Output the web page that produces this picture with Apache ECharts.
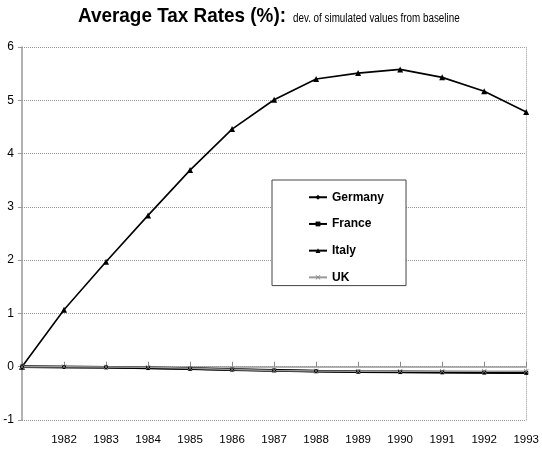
<!DOCTYPE html>
<html><head><meta charset="utf-8">
<script src="https://cdn.jsdelivr.net/npm/echarts@6/dist/echarts.min.js"></script>
<style>html,body{margin:0;padding:0;background:#fff}#c{width:542px;height:450px}</style>
</head><body><div id="c"></div>
<script>
var years = ['1981','1982','1983','1984','1985','1986','1987','1988','1989','1990','1991','1992','1993'];
var germany = [0,-0.005,-0.01,-0.02,-0.035,-0.05,-0.065,-0.08,-0.09,-0.095,-0.1,-0.105,-0.11];
var france  = [0,-0.005,-0.012,-0.025,-0.04,-0.055,-0.07,-0.085,-0.095,-0.1,-0.105,-0.11,-0.115];
var italy   = [0,1.07,1.97,2.84,3.69,4.46,5.01,5.40,5.51,5.58,5.43,5.17,4.78];
var uk      = [0,0,-0.005,-0.01,-0.03,-0.05,-0.07,-0.08,-0.085,-0.085,-0.085,-0.085,-0.085];
var titleMain = 'Average Tax Rates (%):';
var titleSub = 'dev. of simulated values from baseline';
var FONT = '"Liberation Sans",Arial,sans-serif';
var xPath = 'path://M0,1L1,0L5,4L9,0L10,1L6,5L10,9L9,10L5,6L1,10L0,9L4,5Z';
var chart = echarts.init(document.getElementById('c'));
chart.setOption({
  animation:false,
  textStyle:{fontFamily:FONT},
  graphic:[
    {type:'text',left:78,top:6,scaleX:0.9,style:{text:titleMain,font:'bold 21px '+FONT,fill:'#000'}},
    {type:'text',left:293,top:13,scaleX:0.82,style:{text:titleSub,font:'12px '+FONT,fill:'#000'}}
  ],
  legend:{orient:'vertical',left:272,top:180,padding:[10,22,1,36],itemGap:12.2,itemWidth:18,itemHeight:6,
    borderColor:'#444',borderWidth:1,backgroundColor:'#fff',
    textStyle:{fontFamily:FONT,fontSize:12,fontWeight:'bold',color:'#000',lineHeight:14.5},
    data:['Germany','France','Italy','UK']},
  grid:{left:22,right:15,top:47,bottom:30},
  xAxis:[{type:'category',data:years,boundaryGap:false,position:'bottom',
      axisLine:{onZero:true,lineStyle:{color:'#999',width:1.5}},
      axisTick:{inside:true,length:5,lineStyle:{color:'#888'}},
      axisLabel:{show:false},splitLine:{show:false}},
    {type:'category',data:years,boundaryGap:false,position:'bottom',
      axisLine:{show:false,onZero:false},axisTick:{show:false},
      axisLabel:{margin:14,fontFamily:FONT,fontSize:11.5,color:'#000',
        formatter:function(v,i){return i===0?'':v;}}}],
  yAxis:[{type:'value',min:-1,max:6,interval:1,
      axisLine:{show:true,lineStyle:{color:'#999',width:1.5}},
      axisTick:{show:true,length:4,lineStyle:{color:'#999'}},
      axisLabel:{margin:8,fontFamily:FONT,fontSize:12,color:'#000'},
      splitLine:{show:true,lineStyle:{type:'dotted',color:'#999'}}},
    {type:'value',min:-1,max:6,interval:1,position:'right',
      axisLine:{show:true,lineStyle:{type:'dotted',color:'#bbb'}},
      axisTick:{show:false},axisLabel:{show:false},splitLine:{show:false}}],
  series:[
    {name:'Germany',type:'line',data:germany,symbol:'diamond',symbolSize:4,
      lineStyle:{color:'#000',width:2.5},itemStyle:{color:'#000'}},
    {name:'France',type:'line',data:france,symbol:'rect',symbolSize:4,
      lineStyle:{color:'#000',width:2.5},itemStyle:{color:'#000'}},
    {name:'Italy',type:'line',data:italy,symbol:'triangle',symbolSize:6,
      lineStyle:{color:'#000',width:1.6},itemStyle:{color:'#000'}},
    {name:'UK',type:'line',data:uk,symbol:xPath,symbolSize:5,
      lineStyle:{color:'#999',width:1.5},itemStyle:{color:'#888'}}
  ]
});
</script></body></html>
